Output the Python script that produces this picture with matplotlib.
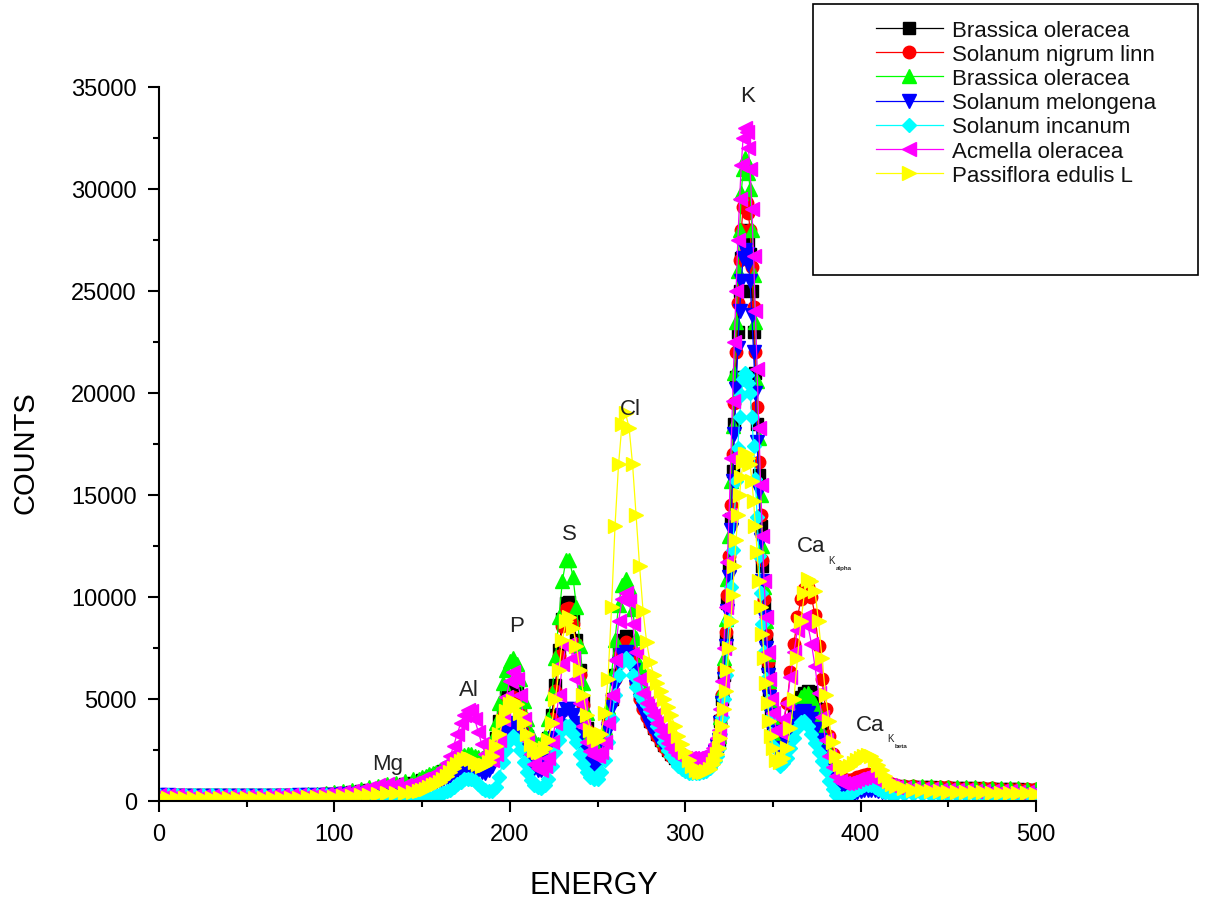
import numpy as np
import matplotlib
matplotlib.use("Agg")
import matplotlib.pyplot as plt
from matplotlib.ticker import MultipleLocator
from matplotlib.patches import Rectangle

plt.rcParams['font.family'] = ['Liberation Sans', 'DejaVu Sans']

# channel grid: coarse on the flat ends, finer through the peaks, finest over K
energy = np.concatenate([np.arange(0, 150, 5), np.arange(148, 317, 2), np.arange(317, 351, 1),
                         np.arange(352, 421, 2), np.arange(425, 501, 5)])

# counts: 30 low, 85 mid, 34 K-peak, 35 Ca, 16 high values
brassica_1 = [
    300, 290, 280, 280, 270, 270, 270, 270, 270, 270, 270, 270, 270, 270, 280, 280, 290, 300, 310, 330,
    350, 380, 420, 470, 530, 600, 680, 750, 820, 880,
    950, 1020, 1080, 1150, 1220, 1280, 1350, 1450, 1550, 1650,
    1780, 1920, 2000, 2070, 2100, 2100, 2030, 1970, 1900, 1950,
    2150, 2500, 3100, 3900, 4600, 5100, 5450, 5600, 5350, 4800,
    3900, 3200, 2600, 2300, 2200, 2200, 2500, 3100, 4200, 5700,
    7400, 8900, 9700, 9750, 9000, 7900, 6400, 4900, 3600, 2900,
    2550, 2400, 2600, 3100, 3900, 5000, 6200, 7400, 7900, 8100,
    7800, 7000, 6000, 5200, 4700, 4300, 3900, 3600, 3300, 3000,
    2750, 2500, 2300, 2100, 1980, 1850, 1780, 1740, 1700, 1700,
    1720, 1750, 1800, 1900, 2100,
    2400, 2700, 3000, 3900, 5000, 6200, 7900, 9700, 11500, 13800,
    16200, 18500, 20800, 23000, 25000, 26600, 27600, 28000, 27800, 27400,
    26800, 25000, 23000, 21000, 18500, 16000, 13500, 11500, 9600, 8000,
    6600, 5400, 4400, 3600,
    2800, 2600, 2700, 3000, 3600, 4200, 4700, 5100, 5300, 5400,
    5350, 5000, 4500, 3700, 2900, 2200, 1650, 1250, 1000, 880,
    850, 850, 860, 880, 900, 910, 920, 900, 870, 840,
    800, 780, 760, 740, 720,
    700, 690, 680, 670, 660, 650, 640, 630, 620, 610, 600, 590, 580, 570, 560, 550]

solanum_nigrum = [
    290, 280, 270, 270, 260, 260, 260, 260, 260, 260, 260, 260, 260, 260, 270, 270, 280, 290, 300, 320,
    340, 370, 410, 460, 520, 590, 660, 730, 790, 850,
    900, 970, 1030, 1100, 1170, 1230, 1300, 1370, 1450, 1550,
    1650, 1750, 1850, 1920, 1950, 1950, 1880, 1820, 1750, 1800,
    2000, 2300, 2800, 3500, 4200, 4700, 5000, 5100, 4900, 4400,
    3700, 3000, 2500, 2200, 2100, 2100, 2400, 3000, 4000, 5400,
    7100, 8600, 9400, 9450, 8700, 7700, 6200, 4700, 3500, 2850,
    2450, 2300, 2500, 3000, 3800, 4900, 6000, 7100, 7600, 7800,
    7600, 6800, 5800, 5000, 4500, 4100, 3800, 3500, 3200, 2900,
    2650, 2400, 2200, 2050, 1900, 1800, 1730, 1690, 1650, 1650,
    1670, 1700, 1750, 1850, 2100,
    2400, 2700, 3000, 4000, 5200, 6500, 8300, 10100, 12000, 14500,
    17000, 19500, 22000, 24400, 26500, 28000, 29100, 29500, 29300, 28800,
    28000, 26200, 24200, 22000, 19300, 16600, 14000, 11800, 9900, 8200,
    6800, 5600, 4600, 3800,
    3000, 3000, 3700, 4800, 6300, 7700, 9000, 9900, 10400, 10500,
    10000, 9100, 7600, 6000, 4500, 3200, 2300, 1700, 1300, 1100,
    1050, 1050, 1100, 1180, 1250, 1290, 1300, 1280, 1200, 1100,
    1000, 920, 860, 810, 770,
    740, 720, 700, 690, 680, 670, 660, 650, 640, 630, 620, 610, 600, 590, 580, 570]

brassica_2 = [
    300, 290, 290, 280, 280, 280, 280, 280, 280, 280, 280, 280, 280, 290, 290, 300, 310, 330, 350, 380,
    420, 470, 530, 600, 680, 750, 830, 900, 980, 1060,
    1100, 1170, 1230, 1300, 1370, 1430, 1500, 1600, 1700, 1800,
    1930, 2070, 2200, 2270, 2300, 2300, 2230, 2170, 2100, 2200,
    2500, 3000, 3800, 4800, 5800, 6400, 6850, 7000, 6700, 6000,
    4900, 4000, 3300, 2900, 2800, 2800, 3200, 4000, 5300, 7000,
    9000, 10800, 11800, 11800, 11000, 9500, 7600, 5800, 4300, 3400,
    2950, 2800, 3000, 3600, 4600, 6200, 7900, 9600, 10600, 10900,
    10500, 9400, 8000, 6600, 5700, 5100, 4600, 4200, 3800, 3400,
    3050, 2750, 2500, 2300, 2150, 2000, 1930, 1900, 1850, 1850,
    1870, 1900, 1950, 2050, 2300,
    2600, 2900, 3200, 4100, 5400, 7000, 8900, 10900, 13000, 15700,
    18400, 21000, 23500, 26000, 28000, 29800, 31000, 31500, 31300, 30800,
    30000, 28000, 25800, 23500, 20600, 17800, 15000, 12500, 10500, 8800,
    7200, 5900, 4800, 4000,
    3000, 2750, 2800, 3100, 3700, 4300, 4800, 5100, 5250, 5300,
    5100, 4700, 4100, 3400, 2700, 2000, 1500, 1150, 950, 870,
    850, 850, 880, 920, 950, 980, 1000, 980, 940, 900,
    860, 830, 810, 790, 775,
    750, 740, 730, 720, 710, 700, 690, 680, 670, 660, 650, 640, 630, 620, 610, 600]

solanum_melongena = [
    280, 270, 260, 260, 250, 250, 250, 250, 250, 250, 250, 250, 250, 250, 260, 260, 270, 270, 280, 290,
    300, 320, 340, 370, 400, 430, 460, 490, 520, 560,
    600, 670, 730, 800, 870, 930, 1000, 1070, 1150, 1250,
    1350, 1450, 1550, 1620, 1650, 1650, 1580, 1500, 1400, 1380,
    1500, 1700, 2100, 2600, 3100, 3450, 3700, 3800, 3650, 3250,
    2700, 2200, 1850, 1600, 1520, 1500, 1700, 2000, 2500, 3100,
    3700, 4200, 4500, 4500, 4200, 3800, 3200, 2600, 2200, 1900,
    1780, 1750, 2000, 2600, 3500, 4600, 5700, 6700, 7150, 7300,
    7100, 6400, 5600, 4900, 4400, 4000, 3700, 3450, 3150, 2900,
    2650, 2400, 2200, 2050, 1900, 1800, 1730, 1690, 1650, 1650,
    1670, 1700, 1750, 1850, 2100,
    2400, 2700, 3000, 3800, 4800, 6000, 7600, 9300, 11000, 13300,
    15700, 18000, 20200, 22200, 24000, 25500, 26600, 27000, 26800, 26300,
    25500, 23800, 22000, 20000, 17600, 15200, 12800, 10800, 9000, 7500,
    6200, 5100, 4200, 3400,
    2600, 2400, 2500, 2800, 3200, 3700, 4100, 4350, 4400, 4300,
    4000, 3550, 3000, 2400, 1850, 1300, 880, 550, 350, 260,
    250, 300, 360, 430, 500, 540, 560, 550, 520, 480,
    450, 430, 420, 400, 390,
    380, 370, 360, 355, 350, 345, 340, 335, 330, 325, 320, 315, 310, 305, 300, 300]

solanum_incanum = [
    300, 300, 300, 300, 300, 300, 300, 300, 300, 300, 300, 300, 300, 300, 300, 300, 300, 290, 280, 270,
    260, 240, 220, 200, 170, 140, 110, 80, 50, 25,
    30, 60, 100, 150, 200, 260, 320, 390, 470, 560,
    680, 820, 950, 1060, 1100, 1080, 970, 820, 650, 530,
    470, 480, 700, 1200, 1900, 2500, 3000, 3200, 3000, 2500,
    1900, 1400, 1050, 800, 680, 650, 800, 1100, 1700, 2400,
    3000, 3500, 3700, 3700, 3300, 2900, 2300, 1800, 1400, 1200,
    1100, 1100, 1400, 2000, 2900, 4000, 5200, 6200, 6800, 7000,
    6800, 6200, 5600, 5200, 4950, 4700, 4400, 4100, 3700, 3300,
    2900, 2500, 2200, 1950, 1700, 1550, 1450, 1380, 1350, 1350,
    1370, 1400, 1480, 1600, 1850,
    1950, 2200, 2600, 3300, 4100, 5000, 6200, 7500, 8800, 10500,
    12300, 14000, 15700, 17300, 18800, 19900, 20700, 21000, 20900, 20500,
    20000, 18800, 17400, 15800, 13900, 12000, 10200, 8700, 7300, 6000,
    4900, 4000, 3300, 2700,
    1900, 1700, 1850, 2100, 2600, 3100, 3600, 3850, 3900, 3700,
    3300, 2850, 2400, 1950, 1500, 1000, 600, 300, 150, 130,
    200, 350, 480, 600, 700, 770, 800, 780, 700, 600,
    500, 430, 390, 360, 345,
    330, 325, 320, 315, 310, 305, 300, 300, 295, 290, 290, 285, 285, 280, 280, 280]

acmella = [
    280, 270, 270, 260, 260, 260, 260, 260, 260, 260, 260, 260, 260, 270, 270, 280, 290, 300, 320, 350,
    380, 420, 480, 560, 650, 760, 850, 820, 780, 860,
    1000, 1070, 1130, 1200, 1270, 1350, 1450, 1600, 1850, 2200,
    2700, 3300, 3800, 4200, 4450, 4400, 4000, 3400, 2800, 2300,
    2050, 2000, 2300, 3000, 4000, 5100, 5900, 6300, 6000, 5200,
    4000, 3000, 2300, 1800, 1600, 1500, 1700, 2100, 2900, 3800,
    5200, 6700, 7600, 7700, 7000, 6000, 4800, 3700, 2900, 2450,
    2250, 2200, 2400, 2900, 3800, 5200, 6900, 8800, 9900, 10200,
    9800, 8700, 7300, 6000, 5300, 4800, 4500, 4200, 3800, 3500,
    3200, 2850, 2600, 2400, 2250, 2100, 2100, 2100, 2100, 2100,
    2150, 2200, 2250, 2350, 2600,
    2800, 3100, 3500, 4500, 5900, 7500, 9500, 11700, 14000, 16800,
    19600, 22500, 25000, 27500, 29500, 31200, 32500, 33000, 32800, 32000,
    31000, 29000, 26700, 24000, 21200, 18300, 15500, 13000, 10800, 9000,
    7300, 6000, 5000, 4300,
    3500, 3400, 4000, 4800, 6100, 7300, 8400, 8900, 9000, 8600,
    7700, 6600, 5300, 4100, 3000, 2200, 1650, 1250, 1000, 900,
    900, 950, 1000, 1080, 1150, 1200, 1230, 1200, 1100, 1000,
    900, 830, 780, 720, 690,
    650, 620, 600, 580, 560, 540, 530, 520, 510, 500, 490, 480, 470, 460, 450, 440]

passiflora = [
    180, 170, 160, 160, 150, 150, 150, 150, 150, 150, 150, 150, 150, 150, 160, 160, 170, 180, 190, 200,
    210, 230, 250, 280, 310, 340, 370, 390, 400, 440,
    480, 530, 600, 680, 760, 850, 950, 1080, 1230, 1400,
    1600, 1800, 1950, 2070, 2100, 2050, 1920, 1800, 1700, 1750,
    1900, 2200, 2700, 3300, 3900, 4400, 4750, 4900, 4750, 4300,
    3800, 3300, 2800, 2500, 2400, 2400, 2600, 3000, 3800, 5000,
    6400, 7900, 8800, 9000, 8500, 7600, 6400, 5200, 4200, 3500,
    3150, 3000, 3300, 4300, 6000, 9500, 13500, 16500, 18500, 19000,
    18300, 16500, 14000, 11500, 9300, 7800, 6800, 6200, 5800, 5400,
    5000, 4600, 4200, 3700, 3200, 2800, 2400, 2000, 1700, 1500,
    1420, 1400, 1450, 1550, 1800,
    2000, 2300, 2600, 3100, 3700, 4500, 5400, 6400, 7500, 8800,
    10100, 11500, 12800, 14000, 15000, 15900, 16600, 17000, 17000, 16800,
    16500, 15700, 14700, 13500, 12200, 10800, 9500, 8200, 7000, 5800,
    4800, 3900, 3200, 2600,
    2000, 1900, 2100, 2600, 3600, 5000, 7000, 8800, 10200, 10900,
    10800, 10300, 8800, 7000, 5200, 3900, 2900, 2200, 1800, 1650,
    1600, 1700, 1850, 2000, 2100, 2200, 2250, 2200, 2000, 1750,
    1500, 1250, 1000, 850, 730,
    620, 560, 520, 500, 480, 460, 450, 440, 430, 420, 410, 400, 390, 380, 370, 360]

series = [
    ('Brassica oleracea', brassica_1, '#000000', 's', 8),
    ('Solanum nigrum linn', solanum_nigrum, '#FF0000', 'o', 9),
    ('Brassica oleracea', brassica_2, '#00FF00', '^', 10),
    ('Solanum melongena', solanum_melongena, '#0000FF', 'v', 10),
    ('Solanum incanum', solanum_incanum, '#00FFFF', 'D', 7.5),
    ('Acmella oleracea', acmella, '#FF00FF', '<', 10),
    ('Passiflora edulis L', passiflora, '#FFFF00', '>', 10),
]

# peak labels (text, energy, counts)
peak_labels = [('Mg', 130.6, 1860), ('Al', 176.7, 5490), ('P', 204, 8580),
               ('S', 233.8, 13090), ('Cl', 269, 19260), ('K', 335.8, 34560)]
ca_labels = [('alpha', 371.7, 12500), ('beta', 405.4, 3770)]

fig = plt.figure(figsize=(12.05, 9.04), dpi=100)
ax = fig.add_axes([159 / 1205, 1 - 802 / 904, 877 / 1205, 714 / 904])

handles = []
for name, counts, color, marker, ms in series:
    line, = ax.plot(energy, counts, color=color, lw=0.9, marker=marker, ms=ms,
                    mec=color, mfc=color, label=name)
    handles.append(line)

ax.set_xlim(0, 500)
ax.set_ylim(0, 35000)
ax.xaxis.set_major_locator(MultipleLocator(100))
ax.xaxis.set_minor_locator(MultipleLocator(50))
ax.yaxis.set_major_locator(MultipleLocator(5000))
ax.yaxis.set_minor_locator(MultipleLocator(2500))
for side in ['top', 'right']:
    ax.spines[side].set_visible(False)
for side in ['left', 'bottom']:
    ax.spines[side].set_linewidth(1.5)
ax.tick_params(which='major', direction='out', length=8, width=1.5, labelsize=17, pad=8)
ax.tick_params(which='minor', direction='out', length=4, width=1.5)

ax.set_xlabel('ENERGY', fontsize=22, va='center')
ax.xaxis.set_label_coords(0.496, -0.1176)
ax.set_ylabel('COUNTS', fontsize=21, va='center')
ax.yaxis.set_label_coords(-0.1517, 0.49)

for txt, x, y in peak_labels:
    ax.text(x, y, txt, fontsize=16, ha='center', va='center', color='#222222')
for sub, x, y in ca_labels:
    ax.text(x, y, 'Ca', fontsize=16, ha='center', va='center', color='#222222')
    ax.annotate('K', xy=(x, y), xytext=(15, -10), textcoords='offset points',
                fontsize=7, ha='center', va='center', color='#222222')
    ax.annotate(sub, xy=(x, y), xytext=(18, -15.5), textcoords='offset points',
                fontsize=4.5, ha='left', va='center', color='#222222', fontweight='bold')

leg = ax.legend(handles=handles, loc='upper left', bbox_to_anchor=(876 / 1205, 1 - 21 / 904),
                bbox_transform=fig.transFigure, frameon=False, fontsize=16, borderpad=0,
                borderaxespad=0, handlelength=3.0, handletextpad=0.4, labelspacing=0.14,
                numpoints=1, markerscale=1.0)
for t in leg.get_texts():
    t.set_color('#111111')
fig.patches.append(Rectangle((813 / 1205, 1 - 276 / 904), 385 / 1205, 271 / 904,
                             transform=fig.transFigure, fill=False, ec='black', lw=1.2))

fig.savefig('out.png', dpi=100)
